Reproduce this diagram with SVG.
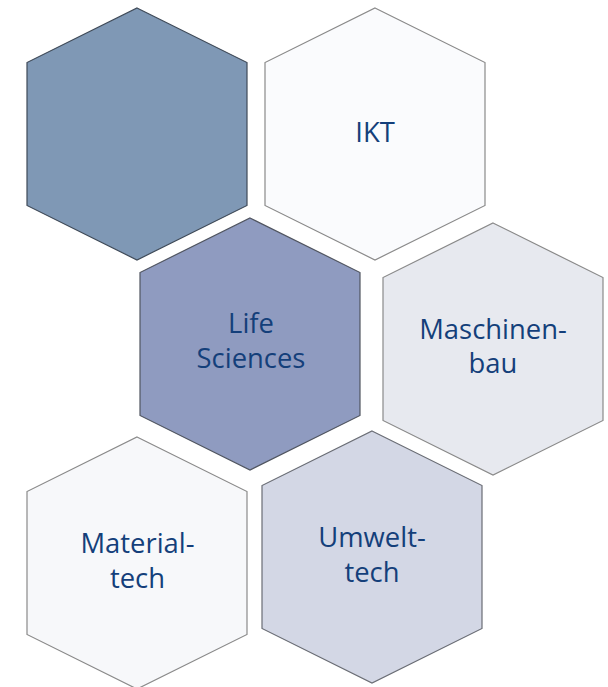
<svg xmlns="http://www.w3.org/2000/svg" width="608" height="687" viewBox="0 0 608 687">
<defs>
<style>
.hex{stroke-width:1.2;stroke-linejoin:miter}
.lbl{font-family:"Open Sans","Noto Sans","Liberation Sans",sans-serif;font-size:27.4px;fill:#143f7a;text-anchor:middle}
</style>
<polygon id="hexshape" points="0,-126 110,-71.5 110,71.5 0,126 -110,71.5 -110,-71.5"/>
</defs>
<rect width="608" height="687" fill="#ffffff"/>
<g id="connectors"></g>
<g id="hex-blank">
<use href="#hexshape" transform="translate(137,134)" class="hex" fill="#7f98b5" stroke="#3f4a58"/>
</g>
<g id="hex-ikt">
<use href="#hexshape" transform="translate(375,134)" class="hex" fill="#fafbfd" stroke="#8a8a8a"/>
<text class="lbl" x="375" y="141.5">IKT</text>
</g>
<g id="hex-life">
<use href="#hexshape" transform="translate(250,344)" class="hex" fill="#8f9bc0" stroke="#505560"/>
<text class="lbl" x="251" y="333">Life</text>
<text class="lbl" x="251" y="367.5">Sciences</text>
</g>
<g id="hex-maschinenbau">
<use href="#hexshape" transform="translate(493,349)" class="hex" fill="#e7e9ef" stroke="#8a8a8a"/>
<text class="lbl" x="493" y="338.5">Maschinen-</text>
<text class="lbl" x="493" y="373">bau</text>
</g>
<g id="hex-materialtech">
<use href="#hexshape" transform="translate(137,563)" class="hex" fill="#f7f8fa" stroke="#8a8a8a"/>
<text class="lbl" x="137.5" y="553">Material-</text>
<text class="lbl" x="137.5" y="588">tech</text>
</g>
<g id="hex-umwelttech">
<use href="#hexshape" transform="translate(372,557)" class="hex" fill="#d3d7e5" stroke="#6a6d75"/>
<text class="lbl" x="372" y="546.5">Umwelt-</text>
<text class="lbl" x="372" y="581.5">tech</text>
</g>
</svg>
